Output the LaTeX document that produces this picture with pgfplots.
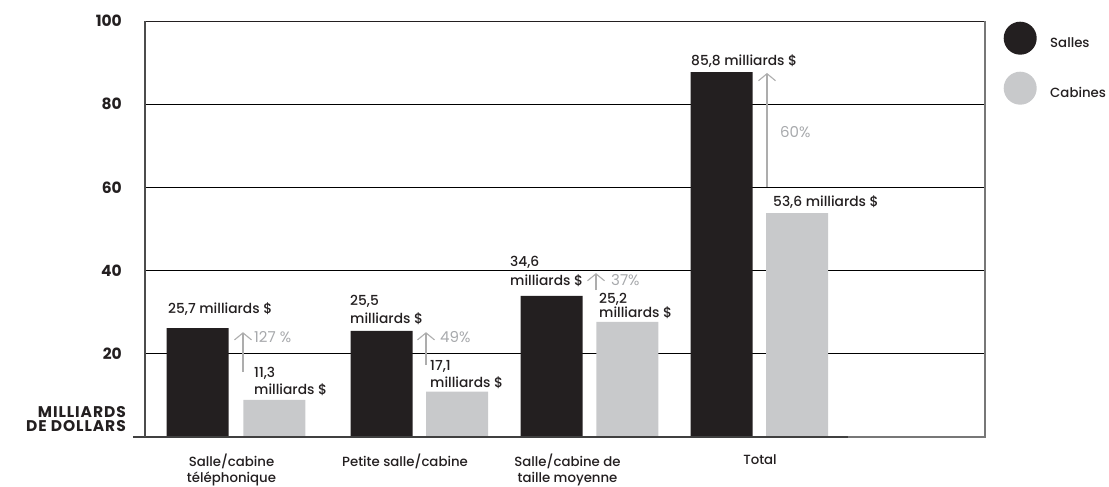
\documentclass[border=0pt]{standalone}
\usepackage{fontspec}
\setmainfont{Poppins}[UprightFont={* Medium}, BoldFont={* Bold}]
\newfontfamily\lightfont{Poppins}
\usepackage{pgfplots}
\pgfplotsset{compat=1.18}
\usetikzlibrary{arrows.meta}
\definecolor{cblack}{HTML}{231F20}
\definecolor{cgray}{HTML}{C8C9CB}
\definecolor{agray}{HTML}{ADADAD}
\definecolor{tgray}{HTML}{A7A9AC}
\definecolor{fgray}{HTML}{777777}
\newcommand{\lbl}{\fontsize{13.8}{14}\selectfont}
\begin{document}
\begin{tikzpicture}
\useasboundingbox (0,0) rectangle (1109pt,487pt);
\begin{axis}[
  at={(145pt,50pt)}, anchor=south west,
  scale only axis, width=840pt, height=416pt,
  xmin=0, xmax=840, ymin=0, ymax=100,
  axis line style={draw=none},
  major tick style={draw=none},
  ytick={20,40,60,80,100},
  ymajorgrids, grid style={line width=0.8pt, black},
  /pgf/number format/assume math mode=true,
  yticklabel style={font=\bfseries\fontsize{15.5}{16}\selectfont, anchor=east, inner sep=0pt, xshift=-23pt, text=cblack},
  xtick={86.5,260,422.5,615},
  xticklabels={{Salle/cabine\\téléphonique}, {Petite salle/cabine}, {Salle/cabine de\\taille moyenne}, {Total}},
  xticklabel style={font=\fontsize{13.3}{16}\selectfont, align=center, anchor=north, inner sep=0pt, yshift=-17pt, text=cblack},
  clip=false,
  legend style={at={(axis cs:840,100)}, anchor=north west, xshift=18.5pt, yshift=-0.5pt, draw=none, fill=none, inner sep=0pt, row sep=17pt, column sep=13.5pt, font=\fontsize{13.3}{14}\selectfont, nodes={inner sep=0pt, text=cblack}},
  legend cell align=left,
]
\addplot[ybar, bar width=62pt, bar shift=0pt, fill=cblack, draw=none,
  legend image code/.code={\fill[cblack] (0pt,5pt) circle (16.5pt);}]
  coordinates {(52.7,26.2) (236.7,25.5) (406.7,33.9) (576.7,87.7)};
\addlegendentry{Salles}
\addplot[ybar, bar width=62pt, bar shift=0pt, fill=cgray, draw=none,
  legend image code/.code={\fill[cgray] (0pt,5pt) circle (16.5pt);}]
  coordinates {(129.3,8.9) (312,10.9) (482.3,27.7) (652,53.8)};
\addlegendentry{Cabines}
% frame
\draw[cblack, line width=0.8pt] (axis cs:0,100) -- (axis cs:840,100);
\draw[fgray, line width=1.6pt] (axis cs:840,100) -- (axis cs:840,0) -- (axis cs:703,0);
\draw[black!75, line width=1.8pt] (axis cs:-12,0) -- (axis cs:703,0);
\draw[black!70, line width=1.6pt] (axis cs:0,0) -- (axis cs:0,100);
% arrows
\begin{scope}[agray, line width=1.1pt, -{Straight Barb[length=7pt,width=17pt]}]
\draw (axis cs:98,15.6) -- (axis cs:98,25.2);
\draw (axis cs:281,17.3) -- (axis cs:281,25.2);
\draw (axis cs:451,35.3) -- (axis cs:451,39.4);
\draw (axis cs:622,60.1) -- (axis cs:622,87.5);
\end{scope}
% value labels
\begin{scope}[every node/.style={anchor=base west, inner sep=0pt, font=\lbl, text=cblack}]
\node at (axis cs:23,29.74) {25,7 milliards \$};
\node at (axis cs:109,14.25) {11,3};
\node at (axis cs:109,10.10) {milliards \$};
\node at (axis cs:205,31.49) {25,5};
\node at (axis cs:205,27.40) {milliards \$};
\node at (axis cs:285,15.87) {17,1};
\node at (axis cs:285,11.78) {milliards \$};
\node at (axis cs:365,40.94) {34,6};
\node at (axis cs:365,36.42) {milliards \$};
\node at (axis cs:454,32.14) {25,2};
\node at (axis cs:454,28.68) {milliards \$};
\node at (axis cs:546,89.42) {85,8 milliards \$};
\node at (axis cs:628,55.29) {53,6 milliards \$};
\end{scope}
\begin{scope}[every node/.style={anchor=base west, inner sep=0pt, font=\lightfont\fontsize{15}{15}\selectfont, text=tgray}]
\node at (axis cs:109,22.6) {127 \%};
\node at (axis cs:295,22.6) {49\%};
\node at (axis cs:466,36.30) {37\%};
\node at (axis cs:635,72.04) {60\%};
\end{scope}
\begin{scope}[every node/.style={anchor=base east, inner sep=0pt, font=\bfseries\fontsize{15.5}{16}\selectfont\addfontfeature{LetterSpace=6}, text=cblack}]
\node at (axis cs:-19,4.66) {MILLIARDS};
\node at (axis cs:-19,1.27) {DE DOLLARS};
\end{scope}
\end{axis}
\end{tikzpicture}
\end{document}
